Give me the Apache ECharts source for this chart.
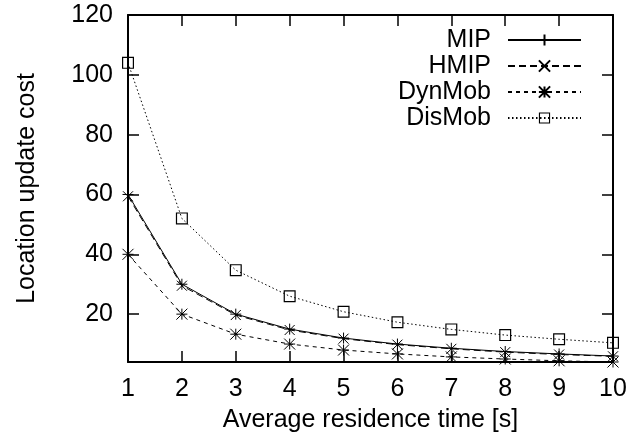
<!DOCTYPE html>
<html>
<head>
<meta charset="utf-8">
<script src="https://cdn.jsdelivr.net/npm/echarts@6/dist/echarts.min.js"></script>
<style>
  html, body { margin: 0; padding: 0; background: #fff; }
  #chart { width: 634px; height: 444px; }
</style>
</head>
<body>
<div id="chart"></div>
<script>
    // values
    var residence = [1, 2, 3, 4, 5, 6, 7, 8, 9, 10];
    var mip = [60, 30, 20, 15, 12, 10, 8.6, 7.5, 6.7, 6];
    var hmip = [59.4, 29.5, 19.7, 14.7, 11.8, 9.8, 8.4, 7.3, 6.5, 5.9];
    var dynMob = [40, 20, 13.3, 10, 8, 6.7, 5.7, 5, 4.4, 4];
    var disMob = [104, 52, 34.7, 26, 20.8, 17.3, 14.9, 13, 11.6, 10.4];
    var yTicks = [20, 40, 60, 80, 100, 120];

    var font = "'Liberation Sans', Arial, Helvetica, sans-serif";
    var fs = 25;

    // gnuplot-like point types
    var PLUS = 'path://M0,5L10,5M5,0L5,10';
    var CROSS = 'path://M0,0L10,10M10,0L0,10';
    var STAR = 'path://M0,5L10,5M5,0L5,10M0,0L10,10M10,0L0,10';
    var BOX = 'path://M0,0L10,0L10,10L0,10Z M1,1L1,9L9,9L9,1Z';

    function pairs(ys) {
        return residence.map(function (x, i) { return [x, ys[i]]; });
    }

    function makeSeries(name, ys, symbol, size, dash, stroke) {
        return {
            name: name,
            type: 'line',
            data: pairs(ys),
            symbol: symbol,
            symbolSize: size,
            showAllSymbol: true,
            animation: false,
            lineStyle: {color: '#000', width: 1, type: dash},
            itemStyle: {color: '#000', borderColor: '#000', borderWidth: stroke}
        };
    }

    var tickStyle = {show: true, inside: true, length: 11, lineStyle: {color: '#000', width: 1.5}};
    var lineAxis = {lineStyle: {color: '#000', width: 2}};

    var chart = echarts.init(document.getElementById('chart'), null, {renderer: 'canvas'});
    var option = {
        backgroundColor: '#fff',
        animation: false,
        textStyle: {fontFamily: font},
        grid: {left: 128, right: 21, top: 15, bottom: 82},
        legend: {
            orient: 'vertical',
            right: 52,
            top: 27,
            padding: 0,
            align: 'right',
            itemWidth: 73,
            itemHeight: 14,
            itemGap: 0,
            data: ['MIP', 'HMIP', 'DynMob', 'DisMob'],
            textStyle: {fontSize: fs, color: '#000', fontFamily: font, lineHeight: 26, padding: [0, 12, 0, 0]}
        },
        xAxis: [{
            type: 'value',
            min: 1,
            max: 10,
            interval: 1,
            name: 'Average residence time [s]',
            nameLocation: 'middle',
            nameGap: 46,
            nameTextStyle: {fontSize: fs, color: '#000', fontFamily: font},
            axisLine: lineAxis,
            axisTick: tickStyle,
            axisLabel: {fontSize: fs, color: '#000', margin: 15, fontFamily: font},
            splitLine: {show: false}
        }, {
            type: 'value',
            position: 'top',
            min: 1,
            max: 10,
            interval: 1,
            axisLine: lineAxis,
            axisTick: tickStyle,
            axisLabel: {show: false},
            splitLine: {show: false}
        }],
        yAxis: [{
            type: 'value',
            min: 4,
            max: 120,
            name: 'Location update cost',
            nameLocation: 'middle',
            nameRotate: 90,
            nameGap: 88,
            nameTextStyle: {fontSize: fs, color: '#000', fontFamily: font},
            axisLine: lineAxis,
            axisTick: {show: true, inside: true, length: 11, customValues: yTicks, lineStyle: {color: '#000', width: 1.5}},
            axisLabel: {fontSize: fs, color: '#000', margin: 15, fontFamily: font, customValues: yTicks},
            splitLine: {show: false}
        }, {
            type: 'value',
            position: 'right',
            min: 4,
            max: 120,
            axisLine: lineAxis,
            axisTick: {show: true, inside: true, length: 11, customValues: yTicks, lineStyle: {color: '#000', width: 1.5}},
            axisLabel: {show: false, customValues: yTicks},
            splitLine: {show: false}
        }],
        series: [
            makeSeries('MIP', mip, PLUS, 11, 'solid', 1),
            makeSeries('HMIP', hmip, CROSS, 10, [7, 4], 1),
            makeSeries('DynMob', dynMob, STAR, 11, [4, 4], 1),
            makeSeries('DisMob', disMob, BOX, 12, [1.5, 2.5], 0)
        ]
    };
    chart.setOption(option);
</script>
</body>
</html>
